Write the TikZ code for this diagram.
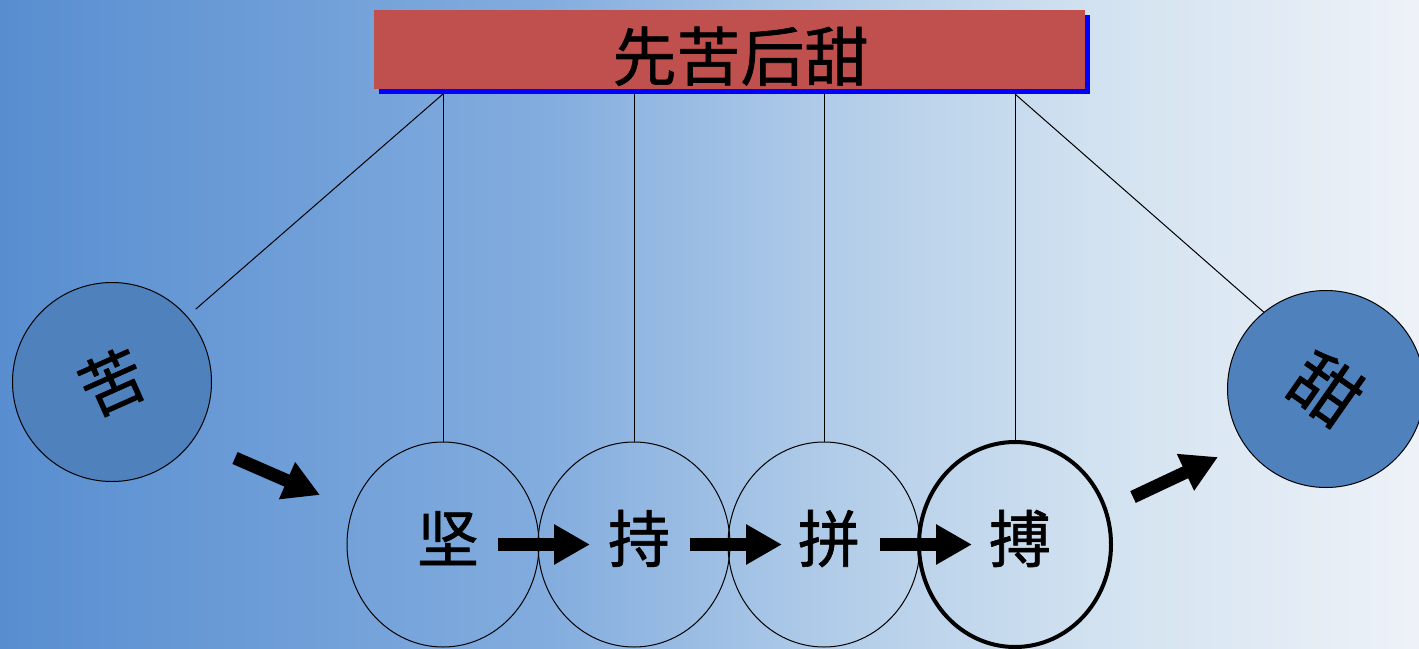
\documentclass[tikz,border=0pt]{standalone}
\usepackage{fontspec}
\newfontfamily\cjk{Noto Sans CJK SC}[FakeBold=1]
\usetikzlibrary{arrows.meta,shapes.geometric,shadows}
\definecolor{skyA}{RGB}{88,142,208}
\definecolor{skyB}{RGB}{130,172,222}
\definecolor{skyC}{RGB}{180,206,233}
\definecolor{skyD}{RGB}{210,226,240}
\definecolor{skyE}{RGB}{238,242,248}
\definecolor{titlered}{RGB}{192,80,77}
\definecolor{ballblue}{RGB}{79,129,189}
\pgfdeclarehorizontalshading{skybg}{100bp}{color(0bp)=(skyA); color(25bp)=(skyA); color(44bp)=(skyB); color(55bp)=(skyC); color(63.8bp)=(skyD); color(75bp)=(skyE); color(100bp)=(skyE)}
\begin{document}
\begin{tikzpicture}[x=1pt, y=-1pt, line join=round,
	thread/.style={black, line width=1pt},
	push/.style={black, line width=13pt, -{Triangle[length=36pt,width=38pt]}},
	headline/.style={rectangle, fill=titlered, minimum width=711pt, minimum height=79pt, inner sep=0pt,
		general shadow={fill=blue, shadow xshift=5pt, shadow yshift=-5pt},
		text height=62pt, text depth=0pt, font=\fontsize{64pt}{64pt}\cjk},
	ball/.style={ellipse, draw=black, minimum width=192pt, minimum height=205pt, inner sep=0pt,
		text height=35pt, text depth=0pt, font=\fontsize{62pt}{62pt}\cjk},
	bitter/.style={circle, draw=black, line width=1pt, fill=ballblue, inner sep=0pt, font=\fontsize{64pt}{64pt}\cjk}]
	\useasboundingbox (0,0) rectangle (1419,648);
	\shade[shading=skybg] (0,0) rectangle (1419,648);
	%\draw[gray!50,dashed,step=50] (0,0) grid (1419,648);
	\node[headline] (title) at (729.5,49.5) {\hspace{22pt}先苦后甜};
	\coordinate (hang) at (0,94);
	\foreach \n/\t/\x/\w in {jian/坚/443/1, chi/持/634/1, pin/拼/824/1, bo/搏/1015/4}
		\node[ball, line width=\w pt] (\n) at (\x,544.5) {\hspace{10pt}\t};
	\node[bitter, minimum size=199pt] (ku) at (112,382) {\rotatebox{24}{苦}\hspace{30pt}};
	\node[bitter, minimum size=197pt] (tian) at (1326,389) {\rotatebox{-35}{\fontsize{68pt}{68pt}\selectfont 甜}};
	\foreach \n in {jian,chi,pin,bo} \draw[thread] (\n.north) -- (\n.north |- hang);
	\draw[thread, shorten >=11pt] (jian.north |- hang) -- (ku);
	\draw[thread] (bo.north |- hang) -- (tian.129);
	\draw[push] ([xshift=55pt]jian.center) -- ([xshift=-44pt]chi.center);
	\draw[push] ([xshift=56pt]chi.center) -- ([xshift=-42pt]pin.center);
	\draw[push] ([xshift=56pt]pin.center) -- ([xshift=-43pt]bo.center);
	\coordinate (kuout) at (235,458);
	\coordinate (kuin) at (320,495);
	\coordinate (tianout) at (1133,497);
	\coordinate (tianin) at (1218,457);
	\draw[push] (kuout) -- (kuin);
	\draw[push] (tianout) -- (tianin);
\end{tikzpicture}
\end{document}
